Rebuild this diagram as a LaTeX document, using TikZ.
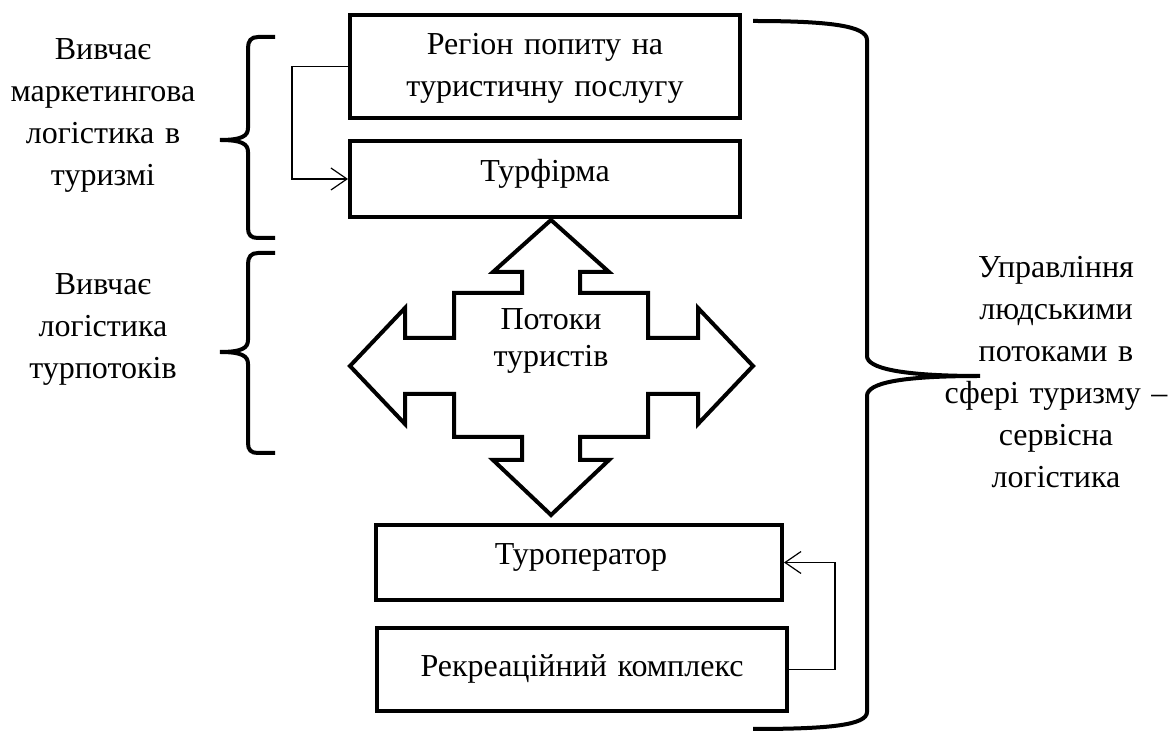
\documentclass[tikz,border=0pt]{standalone}
\usepackage{fontspec}
\setmainfont{Liberation Serif}
\usetikzlibrary{arrows.meta}
\begin{document}
\begin{tikzpicture}[x=0.5pt,y=-0.5pt,
  box/.style={draw,line width=2pt,inner sep=0pt},
  txt/.style={font=\fontsize{16}{21}\selectfont,align=center,anchor=base,inner sep=0pt},
  conn/.style={line width=0.6pt,-{Straight Barb[length=8pt,width=11pt]}},
  brace/.style={line width=2pt},
  bigarrow/.style={line width=2pt,miter limit=10}]
\useasboundingbox (0,0) rectangle (1168,731);

% boxes
\node[box,minimum width=195pt,minimum height=51.5pt] (b1) at (545,66.5) {};
\node[box,minimum width=195pt,minimum height=38pt] (b2) at (545,179) {};
\node[box,minimum width=203pt,minimum height=37.5pt] (b3) at (579,562.5) {};
\node[box,minimum width=205pt,minimum height=41.5pt] (b4) at (582,669.5) {};

% box texts
\node[txt,text width=190pt] (t1) at (545,55) {Регіон попиту на\\туристичну послугу};
\node[txt,text width=190pt] (t2) at (545,182) {Турфірма};
\node[txt,text width=200pt] (t3) at (581,565) {Туроператор};
\node[txt,text width=200pt] (t4) at (582,677) {Рекреаційний комплекс};

% four-headed arrow
\draw[bigarrow] (551,220) -- (609,272) -- (580,272) -- (580,293) -- (648,293)
  -- (648,338) -- (698,338) -- (698,308) -- (753,366) -- (698,424) -- (698,394)
  -- (648,394) -- (648,437) -- (580,437) -- (580,460) -- (609,460) -- (551,515)
  -- (493,460) -- (522,460) -- (522,437) -- (454,437) -- (454,394) -- (405,394)
  -- (405,424) -- (350,366) -- (405,308) -- (405,338) -- (454,338) -- (454,293)
  -- (522,293) -- (522,272) -- (493,272) -- cycle;
\node[txt,text width=120pt,font=\fontsize{16}{18.5}\selectfont] (flow) at (551,330) {Потоки\\туристів};

% connectors
\draw[conn] (b1.west) -- ++(-56,0) |- (b2.west);
\draw[conn] (b4.east) -- ++(46,0) |- (b3.east);

% left braces
\draw[brace] (275,37) -- (258,37) .. controls (251,37) and (248,41) .. (248,48)
  -- (248,128) .. controls (248,136) and (242,140) .. (220,140)
  .. controls (242,140) and (248,144) .. (248,152)
  -- (248,228) .. controls (248,235) and (251,238) .. (258,238) -- (275,238);
\draw[brace] (275,253) -- (258,253) .. controls (251,253) and (248,257) .. (248,264)
  -- (248,340) .. controls (248,348) and (242,352) .. (220,352)
  .. controls (242,352) and (248,356) .. (248,364)
  -- (248,443) .. controls (248,450) and (251,453) .. (258,453) -- (275,453);

% right brace
\draw[brace] (753,21) .. controls (830,21) and (867,26) .. (867,40)
  -- (867,356) .. controls (867,368) and (900,376) .. (980,376)
  .. controls (900,376) and (867,383) .. (867,396)
  -- (867,712) .. controls (867,725) and (830,729) .. (753,729);

% side texts
\node[txt,text width=110pt] (l1) at (103,60) {Вивчає\\маркетингова\\логістика в\\туризмі};
\node[txt,text width=110pt] (l2) at (103,295) {Вивчає\\логістика\\турпотоків};
\node[txt,text width=125pt] (r1) at (1056,278) {Управління\\людськими\\потоками в\\сфері туризму –\\сервісна\\логістика};
\end{tikzpicture}
\end{document}
